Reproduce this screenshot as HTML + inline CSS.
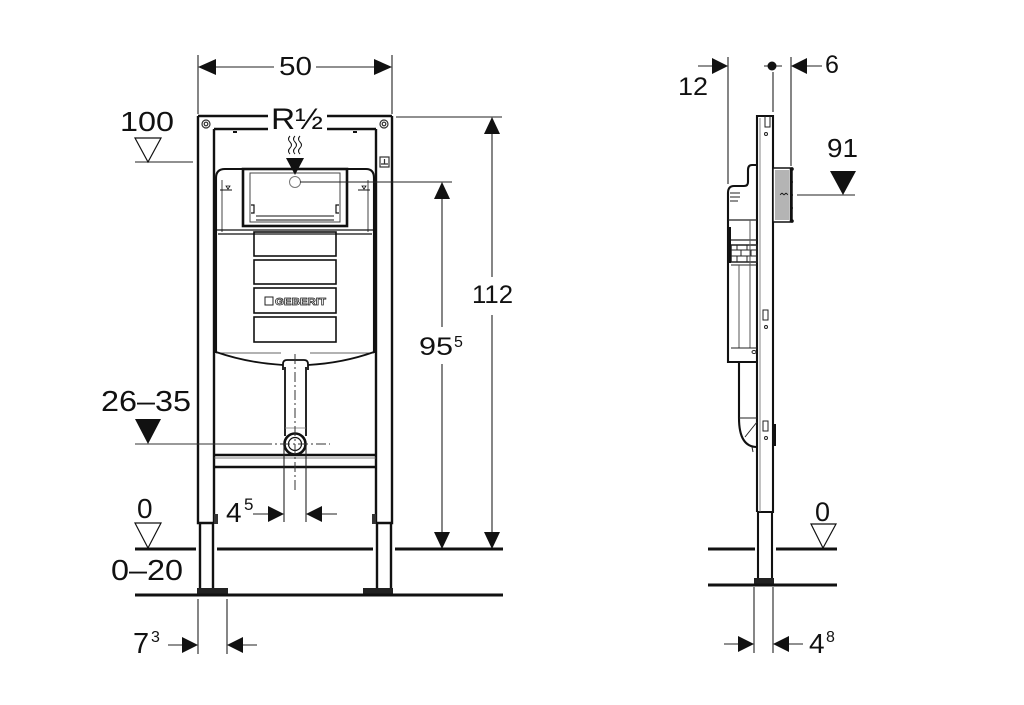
<!DOCTYPE html>
<html><head><meta charset="utf-8"><style>
html,body{margin:0;padding:0;background:#fff;}
svg{display:block}
text{font-family:"Liberation Sans",Arial,sans-serif;fill:#111}
</style></head><body>
<svg width="1024" height="705" viewBox="0 0 1024 705" xmlns="http://www.w3.org/2000/svg">
<rect width="1024" height="705" fill="#fff"/>

<!-- ============ LEFT VIEW ============ -->
<g fill="none" stroke="#111" stroke-width="2.4">
  <path d="M198,116 V523 H214 M214,129 V523"/>
  <path d="M392,116 V523 H376 M376,129 V523"/>
  <path d="M198,116 H268 M327,116 H392 M214,129 H268 M327,129 H376"/>
  <path d="M200,523 V589 M213,523 V589"/>
  <path d="M377,523 V589 M391,523 V589"/>
  <path d="M214,455 H376 M214,467 H376" />
</g>
<path d="M214,458 H376" stroke="#555" stroke-width="0.8" fill="none"/>
<rect x="197" y="588" width="31" height="6" fill="#222"/>
<rect x="363" y="588" width="30" height="6" fill="#222"/>
<rect x="214" y="514" width="4" height="10" fill="#333"/>
<rect x="372" y="514" width="4" height="10" fill="#333"/>
<g fill="none" stroke="#333" stroke-width="1.2">
  <circle cx="206" cy="124" r="4"/><circle cx="206" cy="124" r="1.8"/>
  <circle cx="384" cy="124" r="4"/><circle cx="384" cy="124" r="1.8"/>
  <rect x="380" y="157" width="9" height="10"/>
  <path d="M384.5,159 V164 M381,164 H388"/>
</g>
<path d="M233,132 h4 M353,132 h4" stroke="#111" stroke-width="2"/>

<!-- cistern -->
<g fill="none" stroke="#111">
  <path d="M216,353 V178 Q216,169 225,169 H366 Q374,169 374,178 V353" stroke-width="2.1"/>
  <path d="M222,180 V232 M368,180 V232" stroke-width="1" stroke="#444"/>
  <rect x="243" y="169" width="104" height="57" stroke-width="2.6"/>
  <rect x="250" y="173" width="90" height="49" stroke-width="1" stroke="#444"/>
  <path d="M256,216 H334 M256,220 H334" stroke-width="1"/>
  <path d="M251,205 h3 v8 h-3 M339,205 h-3 v8 h3" stroke-width="1.2"/>
  <path d="M216,230 H374 M218,234 H372" stroke-width="1.2"/>
  <path d="M220,190 H232 M358,190 H370" stroke-width="1"/>
  <path d="M226,186 l2,3 l2,-3 z M362,186 l2,3 l2,-3 z" stroke-width="0.8"/>
  <rect x="254" y="232" width="82" height="24" stroke-width="1.6"/>
  <rect x="254" y="260" width="82" height="24" stroke-width="1.6"/>
  <rect x="254" y="288" width="82" height="25" stroke-width="1.6"/>
  <rect x="254" y="317" width="82" height="25" stroke-width="1.6"/>
  <path d="M216,353 H281 M310,353 H374" stroke-width="0.9" stroke="#666"/>
  <path d="M216,352 Q248,363 283,365 M308,365 Q343,363 374,352" stroke-width="1.8"/>
  <path d="M283,370 V364 Q283,360 287,360 H304 Q308,360 308,364 V370" stroke-width="1.8"/>
  <path d="M285,367 V436 M306,367 V436" stroke-width="1.8"/>
  <path d="M285,428 H306" stroke-width="0.8" stroke="#777"/>
  <circle cx="295" cy="444" r="10.5" stroke-width="2.6"/>
  <circle cx="295" cy="444" r="6.5" stroke-width="1.2"/>
  <path d="M290,136 q-3,3 0,6 q3,3 0,6 q-3,3 0,6 M295,136 q-3,3 0,6 q3,3 0,6 q-3,3 0,6 M300,136 q-3,3 0,6 q3,3 0,6 q-3,3 0,6" stroke-width="1"/>
  <circle cx="295" cy="182" r="5.5" stroke="#777" stroke-width="1"/>
</g>
<polygon points="286,158 304,158 295,175" fill="#111"/>
<rect x="265" y="297" width="8" height="8" fill="none" stroke="#222" stroke-width="1"/>
<text x="275" y="305" font-size="10.5" font-weight="bold" textLength="51" lengthAdjust="spacingAndGlyphs" style="fill:#fff;stroke:#222;stroke-width:0.7">GEBERIT</text>

<path d="M295,354 V490" stroke="#333" stroke-width="1" stroke-dasharray="10,3,2,3" fill="none"/>
<path d="M135,444 H262" stroke="#333" stroke-width="1" fill="none"/>
<path d="M262,444 H330" stroke="#333" stroke-width="1" stroke-dasharray="10,3,2,3" fill="none"/>

<g stroke="#111" stroke-width="3" fill="none">
  <path d="M135,549 H196 M217,549 H373 M395,549 H503"/>
  <path d="M135,595 H503"/>
</g>

<g stroke="#222" stroke-width="1.1" fill="none">
  <path d="M198,55 V114 M392,55 V114"/>
  <path d="M214,67 H274 M316,67 H376"/>
  <path d="M396,117 H502"/>
  <path d="M492,133 V277 M492,315 V533"/>
  <path d="M300,182 H452"/>
  <path d="M442,198 V327 M442,364 V533"/>
  <path d="M135,162 H193"/>
  <path d="M284,446 V522 M306,446 V522"/>
  <path d="M253,514 H268 M322,514 H337"/>
  <path d="M198,599 V654 M227,599 V654"/>
  <path d="M168,645 H183 M242,645 H257"/>
</g>
<g fill="#111">
  <polygon points="198,67 216,59 216,75"/>
  <polygon points="392,67 374,59 374,75"/>
  <polygon points="492,117 484,134 500,134"/>
  <polygon points="492,549 484,532 500,532"/>
  <polygon points="442,182 434,199 450,199"/>
  <polygon points="442,549 434,532 450,532"/>
  <polygon points="284,514 268,506 268,522"/>
  <polygon points="306,514 322,506 322,522"/>
  <polygon points="198,645 182,637 182,653"/>
  <polygon points="227,645 243,637 243,653"/>
  <polygon points="135,419 161,419 148,444"/>
</g>
<g fill="#fff" stroke="#111" stroke-width="1.2">
  <polygon points="135,138 161,138 148,162"/>
  <polygon points="135,523 161,523 148,548"/>
</g>

<text x="279" y="75" font-size="26" textLength="33" lengthAdjust="spacingAndGlyphs">50</text>
<text x="271" y="129" font-size="30" textLength="52" lengthAdjust="spacingAndGlyphs">R½</text>
<text x="120" y="131" font-size="28" textLength="54" lengthAdjust="spacingAndGlyphs">100</text>
<text x="472" y="303" font-size="25" textLength="41" lengthAdjust="spacingAndGlyphs">112</text>
<text x="419" y="355" font-size="25" textLength="34" lengthAdjust="spacingAndGlyphs">95</text>
<text x="454" y="347" font-size="16">5</text>
<text x="101" y="411" font-size="29" textLength="90" lengthAdjust="spacingAndGlyphs">26–35</text>
<text x="137" y="518" font-size="28">0</text>
<text x="111" y="580" font-size="29" textLength="72" lengthAdjust="spacingAndGlyphs">0–20</text>
<text x="226" y="522" font-size="28">4</text>
<text x="244" y="510" font-size="17">5</text>
<text x="133" y="653" font-size="29">7</text>
<text x="151" y="642" font-size="16">3</text>

<!-- ============ RIGHT VIEW ============ -->
<g fill="none" stroke="#111" stroke-width="2.1">
  <path d="M757,512 V116 H773 V512 H757"/>
  <path d="M758,512 V579 M772,512 V579"/>
  <path d="M757,165 H752 Q748,165 748,170 V182 Q748,186 744,186 H734 Q728,186 728,193 V362 H757"/>
  <path d="M739,362 V418 Q739,447 757,447"/>
</g>
<path d="M760,118 V512" stroke="#666" stroke-width="0.8" fill="none"/>
<rect x="754" y="578" width="20" height="7" fill="#222"/>
<g fill="none" stroke="#222" stroke-width="1">
  <path d="M765,116 V127 H770 V116"/>
  <circle cx="766" cy="134" r="1.5"/>
  <rect x="763" y="310" width="5" height="10"/>
  <circle cx="766" cy="327" r="1.5"/>
  <rect x="763" y="421" width="5" height="10"/>
  <circle cx="766" cy="438" r="1.5"/>
  <path d="M730,193 H740 M730,197 H740 M730,201 H738"/>
  <path d="M728,220 H757 M731,240 H757" stroke-width="1.3"/>
  <rect x="731" y="245" width="26" height="17" stroke-width="1.5"/>
  <path d="M731,250 H757 M731,256 H757 M737,245 V250 M747,245 V250 M741,250 V256 M751,250 V256 M737,256 V262 M747,256 V262" stroke-width="1"/>
  <path d="M731,265 H757"/>
  <path d="M739,265 V348 M750,220 V348" stroke="#555"/>
  <path d="M731,348 H757"/>
  <ellipse cx="754" cy="352" rx="2" ry="1.5"/>
  <path d="M739,418 H757 M745,437 L757,422"/>
  <path d="M752,447 L753,452"/>
</g>
<rect x="727" y="227" width="4" height="36" fill="#111"/>
<rect x="773" y="424" width="3" height="22" fill="#111"/>
<rect x="773" y="168" width="19" height="54" fill="#fff" stroke="#111" stroke-width="1.5"/>
<g stroke="#444" stroke-width="0.8">
  <path d="M776,170 V220 M778,170 V220 M780,170 V220 M782,170 V220 M784,170 V220 M786,170 V220 M788,170 V220"/>
</g>
<path d="M780,195 l2,-2 l2,2 l2,-2 l2,2" stroke="#111" stroke-width="0.8" fill="none"/>
<path d="M791,168 V222" stroke="#111" stroke-width="2.5"/>
<g fill="#111"><circle cx="792" cy="169" r="1.8"/><circle cx="792" cy="221" r="1.8"/><circle cx="792" cy="182" r="1"/><circle cx="792" cy="195" r="1"/><circle cx="792" cy="208" r="1"/></g>

<g stroke="#111" stroke-width="3" fill="none">
  <path d="M708,549 H755 M776,549 H837"/>
  <path d="M708,585 H837"/>
</g>

<g stroke="#222" stroke-width="1.1" fill="none">
  <path d="M728,57 V184 M791,57 V166"/>
  <path d="M698,66 H713 M806,66 H822"/>
  <path d="M764,66 H782 M773,72 V112"/>
  <path d="M797,195 H855"/>
  <path d="M754,587 V653 M773,587 V653"/>
  <path d="M724,644 H739 M788,644 H803"/>
</g>
<g fill="#111">
  <circle cx="772" cy="66" r="4.5"/>
  <polygon points="728,66 712,58 712,74"/>
  <polygon points="791,66 807,58 807,74"/>
  <polygon points="830,171 856,171 843,195"/>
  <polygon points="754,644 738,636 738,652"/>
  <polygon points="773,644 789,636 789,652"/>
</g>
<polygon points="811,524 836,524 823,548" fill="#fff" stroke="#111" stroke-width="1.2"/>

<text x="678" y="95" font-size="25" textLength="30" lengthAdjust="spacingAndGlyphs">12</text>
<text x="825" y="73" font-size="25">6</text>
<text x="827" y="157" font-size="26" textLength="31" lengthAdjust="spacingAndGlyphs">91</text>
<text x="815" y="521" font-size="27">0</text>
<text x="809" y="653" font-size="28">4</text>
<text x="826" y="642" font-size="16">8</text>
</svg>
</body></html>
